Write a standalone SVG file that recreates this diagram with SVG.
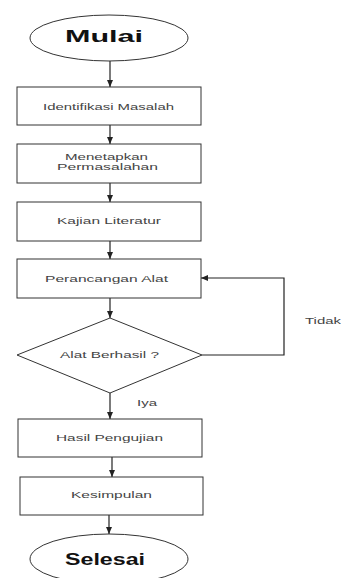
<svg xmlns="http://www.w3.org/2000/svg" width="341" height="578" viewBox="0 0 341 578">
<defs>
<marker id="ah" markerWidth="8" markerHeight="6" refX="7" refY="3" orient="auto" markerUnits="userSpaceOnUse">
<path d="M0,0 L7,3 L0,6 Z" fill="#222"/>
</marker>
<style>
.shape{fill:#fff;stroke:#333;stroke-width:1}
.lbl{font-family:"Liberation Sans",Arial,sans-serif;font-size:9px;fill:#444;dominant-baseline:central;text-anchor:middle}
.big{font-family:"Liberation Sans",Arial,sans-serif;font-size:16.5px;font-weight:bold;fill:#111;dominant-baseline:central;text-anchor:middle}
.conn{fill:none;stroke:#222;stroke-width:1.2;marker-end:url(#ah)}
</style>
</defs>
<rect width="341" height="578" fill="#fff"/>
<g id="connectors">
<line class="conn" x1="110" y1="61" x2="110" y2="87"/>
<line class="conn" x1="110" y1="125" x2="110" y2="144"/>
<line class="conn" x1="110" y1="183" x2="110" y2="202"/>
<line class="conn" x1="110" y1="241" x2="110" y2="259"/>
<line class="conn" x1="110" y1="298" x2="110" y2="318"/>
<polyline class="conn" points="202,355 284,355 284,278 201,278"/>
<line class="conn" x1="110" y1="393" x2="110" y2="419"/>
<line class="conn" x1="112" y1="457" x2="112" y2="477"/>
<line class="conn" x1="109" y1="515" x2="109" y2="534"/>
<text class="lbl" x="323" y="321" textLength="36" lengthAdjust="spacingAndGlyphs">Tidak</text>
<text class="lbl" x="147" y="403" textLength="20" lengthAdjust="spacingAndGlyphs">Iya</text>
</g>
<g id="mulai">
<ellipse class="shape" cx="109" cy="38" rx="79" ry="23"/>
<text class="big" x="104" y="36" textLength="78" lengthAdjust="spacingAndGlyphs">Mulai</text>
</g>
<g id="identifikasi">
<rect class="shape" x="17" y="87" width="184" height="38"/>
<text class="lbl" x="108.5" y="107" textLength="131" lengthAdjust="spacingAndGlyphs">Identifikasi Masalah</text>
</g>
<g id="menetapkan">
<rect class="shape" x="17" y="144" width="184" height="39"/>
<text class="lbl" x="106.5" y="157" textLength="83" lengthAdjust="spacingAndGlyphs">Menetapkan</text>
<text class="lbl" x="107.5" y="167" textLength="101" lengthAdjust="spacingAndGlyphs">Permasalahan</text>
</g>
<g id="kajian">
<rect class="shape" x="17" y="202" width="184" height="39"/>
<text class="lbl" x="109" y="221" textLength="104" lengthAdjust="spacingAndGlyphs">Kajian Literatur</text>
</g>
<g id="perancangan">
<rect class="shape" x="17" y="259" width="184" height="39"/>
<text class="lbl" x="106.5" y="279" textLength="123" lengthAdjust="spacingAndGlyphs">Perancangan Alat</text>
</g>
<g id="berhasil">
<polygon class="shape" points="110,318 202,355 110,393 17,355"/>
<text class="lbl" x="109.5" y="355" textLength="99" lengthAdjust="spacingAndGlyphs">Alat Berhasil ?</text>
</g>
<g id="hasil">
<rect class="shape" x="18" y="419" width="184" height="38"/>
<text class="lbl" x="109.5" y="438" textLength="107" lengthAdjust="spacingAndGlyphs">Hasil Pengujian</text>
</g>
<g id="kesimpulan">
<rect class="shape" x="20" y="477" width="183" height="38"/>
<text class="lbl" x="111.5" y="495" textLength="81" lengthAdjust="spacingAndGlyphs">Kesimpulan</text>
</g>
<g id="selesai">
<ellipse class="shape" cx="109" cy="559" rx="79" ry="25"/>
<text class="big" x="105" y="559" textLength="80" lengthAdjust="spacingAndGlyphs">Selesai</text>
</g>
</svg>
